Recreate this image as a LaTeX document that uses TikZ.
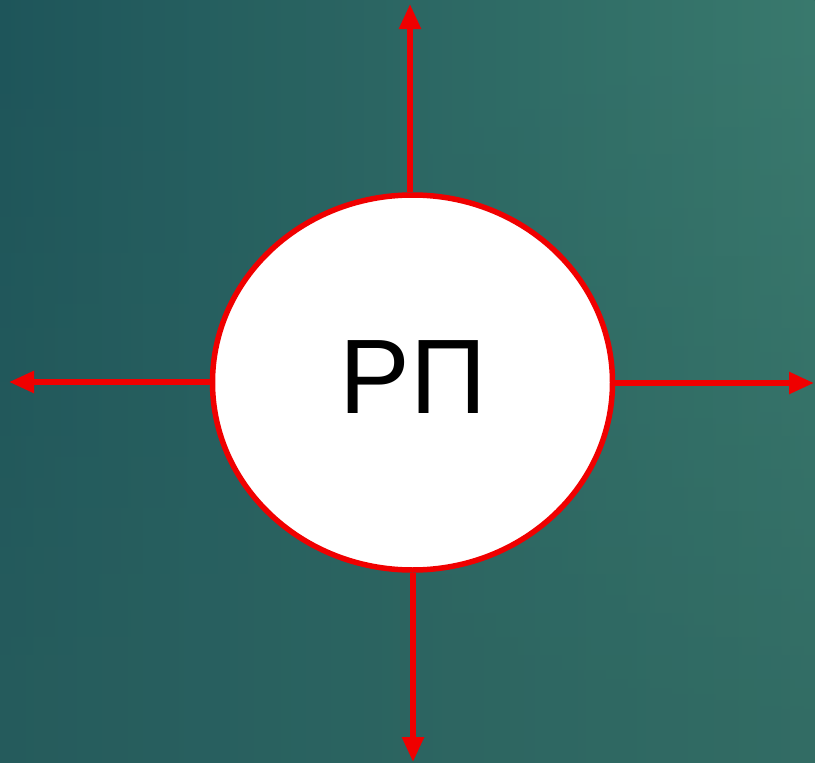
\documentclass[tikz,border=0pt]{standalone}
\usepackage{fontspec}
\setmainfont{Liberation Sans}
\usetikzlibrary{arrows.meta,shapes.geometric,fadings}
\definecolor{tl}{RGB}{30,85,90}
\definecolor{tr}{RGB}{58,122,110}
\definecolor{bl}{RGB}{38,92,93}
\definecolor{br}{RGB}{50,108,100}
\definecolor{redline}{RGB}{240,0,0}
\tikzset{
  rp/.style={ellipse, draw=redline, line width=5.5pt, fill=white, minimum width=400pt, minimum height=375pt, inner sep=0pt},
  rptext/.style={font=\fontsize{106}{106}\selectfont, inner sep=0pt},
  outarrow/.style={draw=redline, line width=5.5pt, -{Triangle[length=25pt,width=21pt]}}
}
\begin{document}
\begin{tikzpicture}[x=1pt,y=-1pt]
  \useasboundingbox (0,0) rectangle (815,763);
  \shade[left color=bl, right color=br] (0,0) rectangle (815,763);
  \shade[left color=tl, right color=tr, path fading=south] (0,0) rectangle (815,763);
  \node[rp] (c) at (412.5,382.5) {};
  \node[rptext] (t) at (413,377) {РП};
  \coordinate (up) at (410,4);
  \coordinate (down) at (413,762);
  \coordinate (left) at (9,382);
  \coordinate (right) at (814,383);
  \draw[outarrow] (c.north -| up) -- (up);
  \draw[outarrow] (c.south -| down) -- (down);
  \draw[outarrow] (c.west |- left) -- (left);
  \draw[outarrow] (c.east |- right) -- (right);
\end{tikzpicture}
\end{document}
